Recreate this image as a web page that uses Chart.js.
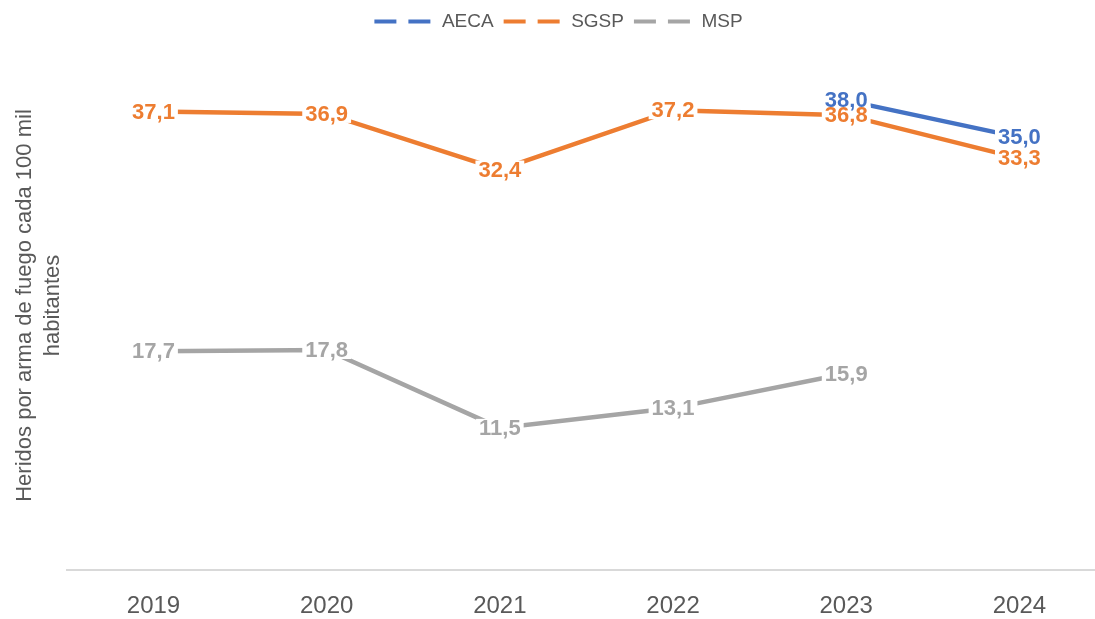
<!DOCTYPE html>
<html lang="es">
<head>
<meta charset="UTF-8">
<title>Heridos por arma de fuego cada 100 mil habitantes</title>
<script src="https://cdn.jsdelivr.net/npm/chart.js"></script>
<style>
  html, body { margin: 0; padding: 0; background: #fff; overflow: hidden; }
  #wrap { width: 1108px; height: 619px; position: relative; }
</style>
</head>
<body>
<div id="wrap"><canvas id="lineChart"></canvas></div>
<script>
// data
const years = ['2019', '2020', '2021', '2022', '2023', '2024'];
const aeca = [null, null, null, null, 38.0, 35.0];
const sgsp = [37.1, 36.9, 32.4, 37.2, 36.8, 33.3];
const msp = [17.7, 17.8, 11.5, 13.1, 15.9, null];
const seriesNames = ['AECA', 'SGSP', 'MSP'];
const seriesColors = ['#4472C4', '#ED7D31', '#A5A5A5'];
const axisTitle = ['Heridos por arma de fuego cada 100 mil', 'habitantes'];

const FONT = "'Liberation Sans', Arial, sans-serif";
const GREY_TEXT = '#595959';

// Excel style value labels: centred on the point, white box under the text
const valueLabels = {
  id: 'valueLabels',
  afterDatasetsDraw(chart) {
    const ctx = chart.ctx;
    ctx.save();
    ctx.font = 'bold 22px ' + FONT;
    ctx.textAlign = 'center';
    ctx.textBaseline = 'middle';
    const items = [];
    chart.data.datasets.forEach((ds, i) => {
      const meta = chart.getDatasetMeta(i);
      meta.data.forEach((pt, j) => {
        const v = ds.data[j];
        if (v === null || v === undefined) return;
        items.push({ x: pt.x, y: pt.y, txt: v.toFixed(1).replace('.', ','), color: ds.borderColor });
      });
    });
    // boxes first, then text, so close labels stay readable
    items.forEach(it => {
      const w = ctx.measureText(it.txt).width;
      ctx.fillStyle = '#fff';
      ctx.fillRect(it.x - w / 2 - 3, it.y - 9, w + 6, 18);
    });
    items.forEach(it => {
      ctx.fillStyle = it.color;
      ctx.fillText(it.txt, it.x, it.y + 1);
    });
    ctx.restore();
  }
};

const allSeries = [aeca, sgsp, msp];
const datasets = allSeries.map((d, i) => ({
  label: seriesNames[i],
  data: d,
  borderColor: seriesColors[i],
  backgroundColor: seriesColors[i],
  borderWidth: 4.5,
  pointRadius: 0,
  tension: 0,
  spanGaps: false
}));

new Chart(document.getElementById('lineChart'), {
  type: 'line',
  data: { labels: years, datasets: datasets },
  plugins: [valueLabels],
  options: {
    responsive: true,
    maintainAspectRatio: false,
    animation: false,
    layout: { padding: { top: 2, left: 11, right: 2, bottom: 0 } },
    plugins: {
      tooltip: { enabled: false },
      legend: {
        position: 'top',
        labels: {
          color: GREY_TEXT,
          font: { family: FONT, size: 19 },
          usePointStyle: true,
          pointStyleWidth: 58,
          boxHeight: 19,
          padding: 10,
          generateLabels(chart) {
            return chart.data.datasets.map((ds, i) => ({
              text: ds.label,
              fillStyle: ds.borderColor,
              strokeStyle: ds.borderColor,
              fontColor: GREY_TEXT,
              lineWidth: 4,
              lineDash: [22, 12],
              lineCap: 'butt',
              pointStyle: 'line',
              hidden: false,
              datasetIndex: i
            }));
          }
        }
      }
    },
    scales: {
      x: {
        offset: true,
        grid: { display: false, drawTicks: false },
        border: { display: true, color: '#D9D9D9', width: 2 },
        ticks: {
          color: GREY_TEXT,
          font: { family: FONT, size: 24 },
          padding: 22,
          maxRotation: 0
        },
        afterFit(scale) { scale.height = 49; }
      },
      y: {
        min: 0,
        max: 42.8,
        grid: { display: false, drawTicks: false },
        border: { display: false },
        ticks: { display: false },
        title: {
          display: true,
          text: axisTitle,
          color: GREY_TEXT,
          font: { family: FONT, size: 22, lineHeight: 1.27 },
          padding: { top: 0, bottom: 0 }
        }
      }
    }
  }
});
</script>
</body>
</html>
